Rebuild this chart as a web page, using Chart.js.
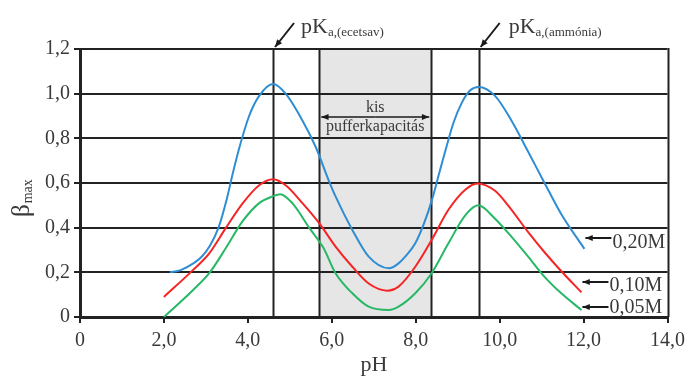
<!DOCTYPE html>
<html>
<head>
<meta charset="utf-8">
<script src="https://cdn.jsdelivr.net/npm/chart.js@4.4.1/dist/chart.umd.min.js"></script>
<style>
  html, body { margin: 0; padding: 0; background: #ffffff; }
  #wrap { position: relative; width: 691px; height: 376px; }
</style>
</head>
<body>
<div id="wrap"><canvas id="c" width="691" height="376"></canvas></div>
<script>
// ---- data ----
const phBlue   = [2.14, 2.4, 2.7, 2.9, 3.1, 3.3, 3.5, 3.65, 3.8, 4.03, 4.27, 4.6, 4.9, 5.3, 5.62, 5.93, 6.09, 6.49, 6.88, 7.36, 7.59, 7.75, 7.99, 8.2, 8.38, 8.54, 8.7, 8.9, 9.1, 9.3, 9.5, 9.89, 10.28, 10.68, 11.07, 11.47, 12.02];
const betaBlue = [0.20, 0.21, 0.24, 0.27, 0.32, 0.40, 0.53, 0.65, 0.76, 0.90, 0.99, 1.043, 1.0, 0.88, 0.76, 0.61, 0.54, 0.39, 0.27, 0.218, 0.24, 0.27, 0.33, 0.42, 0.52, 0.63, 0.74, 0.87, 0.96, 1.015, 1.03, 0.99, 0.88, 0.74, 0.60, 0.46, 0.305];

const phRed   = [2.0, 2.69, 3.08, 3.48, 3.88, 4.27, 4.6, 4.9, 5.3, 5.7, 6.09, 6.49, 6.88, 7.32, 7.59, 7.99, 8.38, 8.78, 9.18, 9.47, 9.89, 10.2, 10.68, 11.07, 11.47, 11.95];
const betaRed = [0.09, 0.21, 0.285, 0.40, 0.51, 0.59, 0.617, 0.59, 0.51, 0.42, 0.315, 0.225, 0.15, 0.118, 0.136, 0.225, 0.345, 0.48, 0.57, 0.598, 0.565, 0.50, 0.38, 0.29, 0.205, 0.11];

const phGreen   = [2.0, 2.69, 3.08, 3.48, 3.88, 4.27, 4.59, 4.77, 5.06, 5.46, 5.8, 6.09, 6.49, 6.88, 7.36, 7.59, 7.99, 8.38, 8.78, 9.18, 9.49, 9.89, 10.28, 10.68, 11.07, 11.47, 11.95];
const betaGreen = [0.0, 0.12, 0.196, 0.31, 0.43, 0.51, 0.54, 0.55, 0.51, 0.40, 0.31, 0.196, 0.106, 0.046, 0.031, 0.046, 0.106, 0.196, 0.33, 0.455, 0.50, 0.44, 0.36, 0.27, 0.18, 0.106, 0.031];

const seriesLabels = ["0,20M", "0,10M", "0,05M"];
const xTicks = [0, 2, 4, 6, 8, 10, 12, 14];
const yTicks = [0, 0.2, 0.4, 0.6, 0.8, 1.0, 1.2];
const pKaAcetic = 4.6;
const pKaAmmonia = 9.5;
const lowBufferRange = [5.7, 8.37];

// ---- helpers ----
function pts(xs, ys) { return xs.map((x, i) => ({ x: x, y: ys[i] })); }
function fmt(v) { return v === 0 ? "0" : v.toFixed(1).replace(".", ","); }

const SERIF = "'Liberation Serif', 'DejaVu Serif', serif";
const TXT = "#3a3a3a";
const LINE = "#222222";

function arrow(ctx, x1, y1, x2, y2, head) {
  ctx.beginPath(); ctx.moveTo(x1, y1); ctx.lineTo(x2, y2); ctx.stroke();
  const a = Math.atan2(y2 - y1, x2 - x1);
  ctx.beginPath();
  ctx.moveTo(x2, y2);
  ctx.lineTo(x2 - head * Math.cos(a - 0.4), y2 - head * Math.sin(a - 0.4));
  ctx.lineTo(x2 - head * Math.cos(a + 0.4), y2 - head * Math.sin(a + 0.4));
  ctx.closePath(); ctx.fill();
}

const decor = {
  id: "decor",
  beforeDraw(chart) {
    const { ctx, scales: { x, y } } = chart;
    ctx.save();
    ctx.fillStyle = "#e6e6e6";
    const l = x.getPixelForValue(lowBufferRange[0]), r = x.getPixelForValue(lowBufferRange[1]);
    const t = y.getPixelForValue(1.2), b = y.getPixelForValue(0);
    ctx.fillRect(l, t, r - l, b - t);
    ctx.restore();
  },
  beforeDatasetsDraw(chart) {
    const { ctx, scales: { x, y } } = chart;
    ctx.save();
    ctx.strokeStyle = LINE;
    ctx.lineWidth = 2;
    const t = y.getPixelForValue(1.2), b = y.getPixelForValue(0);
    [pKaAcetic, lowBufferRange[0], lowBufferRange[1], pKaAmmonia, 14].forEach(v => {
      const px = Math.round(x.getPixelForValue(v)) + 0.5;
      ctx.beginPath(); ctx.moveTo(px, t - 1); ctx.lineTo(px, b); ctx.stroke();
    });
    ctx.restore();
  },
  afterDraw(chart) {
    const { ctx, scales: { x, y } } = chart;
    ctx.save();
    ctx.fillStyle = TXT;
    ctx.strokeStyle = "#1a1a1a";
    ctx.textBaseline = "alphabetic";

    // y axis title beta_max (rotated)
    ctx.save();
    ctx.translate(29, 217);
    ctx.rotate(-Math.PI / 2);
    ctx.font = "25px " + SERIF;
    ctx.textAlign = "left";
    ctx.fillText("β", 0, 0);
    const bw = ctx.measureText("β").width;
    ctx.font = "14px " + SERIF;
    ctx.fillText("max", bw + 1, 3);
    ctx.restore();

    // x axis title
    ctx.font = "22px " + SERIF;
    ctx.textAlign = "center";
    ctx.fillText("pH", 374, 371);

    // pKa labels with arrows
    ctx.lineWidth = 2;
    ctx.fillStyle = "#1a1a1a";
    const topY = y.getPixelForValue(1.2);
    const xa = x.getPixelForValue(pKaAcetic), xb = x.getPixelForValue(pKaAmmonia);
    arrow(ctx, xa + 21, 23, xa + 2, topY - 2, 8);
    arrow(ctx, xb + 21, 23, xb + 2, topY - 2, 8);
    ctx.fillStyle = TXT;
    ctx.textAlign = "left";
    [[xa + 28, "a,(ecetsav)"], [xb + 30, "a,(ammónia)"]].forEach(([px, sub]) => {
      ctx.font = "22px " + SERIF;
      ctx.fillText("pK", px, 33);
      const w = ctx.measureText("pK").width;
      ctx.font = "13px " + SERIF;
      ctx.fillText(sub, px + w, 36);
    });

    // low buffer capacity annotation
    const l = x.getPixelForValue(lowBufferRange[0]), r = x.getPixelForValue(lowBufferRange[1]);
    const cx = (l + r) / 2;
    ctx.textAlign = "center";
    ctx.font = "16px " + SERIF;
    ctx.fillText("kis", cx, 112);
    ctx.fillText("pufferkapacitás", cx, 131);
    ctx.fillStyle = "#1a1a1a";
    ctx.lineWidth = 1.3;
    arrow(ctx, cx, 117, l + 2, 117, 8);
    arrow(ctx, cx, 117, r - 2, 117, 8);

    // concentration labels on the right
    const ends = [[phBlue, betaBlue], [phRed, betaRed], [phGreen, betaGreen]];
    const labelY = [248, 291, 313];
    const arrowY = [238, 282, 307];
    ctx.lineWidth = 2;
    ends.forEach(([xs, ys], i) => {
      const ex = x.getPixelForValue(xs[xs.length - 1]);
      ctx.fillStyle = "#1a1a1a";
      arrow(ctx, ex + 27, arrowY[i], ex + 1, arrowY[i], 8);
      ctx.fillStyle = TXT;
      ctx.textAlign = "left";
      ctx.font = "20px " + SERIF;
      ctx.fillText(seriesLabels[i], ex + 28, labelY[i]);
    });
    ctx.restore();
  }
};

const common = { showLine: true, pointRadius: 0, borderWidth: 2, cubicInterpolationMode: "monotone", fill: false };

new Chart(document.getElementById("c"), {
  type: "scatter",
  data: {
    datasets: [
      Object.assign({ label: seriesLabels[0], data: pts(phBlue, betaBlue), borderColor: "#2e8dd3" }, common),
      Object.assign({ label: seriesLabels[1], data: pts(phRed, betaRed), borderColor: "#f52525" }, common),
      Object.assign({ label: seriesLabels[2], data: pts(phGreen, betaGreen), borderColor: "#27b866" }, common)
    ]
  },
  options: {
    responsive: false,
    animation: false,
    events: [],
    layout: { padding: { left: 0, right: 21, top: 49, bottom: 0 } },
    plugins: { legend: { display: false }, tooltip: { enabled: false } },
    scales: {
      x: {
        type: "linear", min: 0, max: 14,
        afterBuildTicks: s => { s.ticks = xTicks.map(v => ({ value: v })); },
        afterFit: s => { s.height = 59; },
        ticks: { callback: v => fmt(v), color: TXT, font: { family: SERIF, size: 20 }, padding: 6, maxRotation: 0 },
        grid: { drawOnChartArea: false, drawTicks: true, tickLength: 6, color: LINE, lineWidth: 2 },
        border: { display: true, color: LINE, width: 3 }
      },
      y: {
        min: 0, max: 1.2,
        afterBuildTicks: s => { s.ticks = yTicks.map(v => ({ value: v })); },
        afterFit: s => { s.width = 80; },
        ticks: { callback: v => fmt(v), color: TXT, font: { family: SERIF, size: 20 }, padding: 4 },
        grid: { drawOnChartArea: true, drawTicks: true, tickLength: 6, color: LINE, lineWidth: 2 },
        border: { display: true, color: LINE, width: 3 }
      }
    }
  },
  plugins: [decor]
});
</script>
</body>
</html>
